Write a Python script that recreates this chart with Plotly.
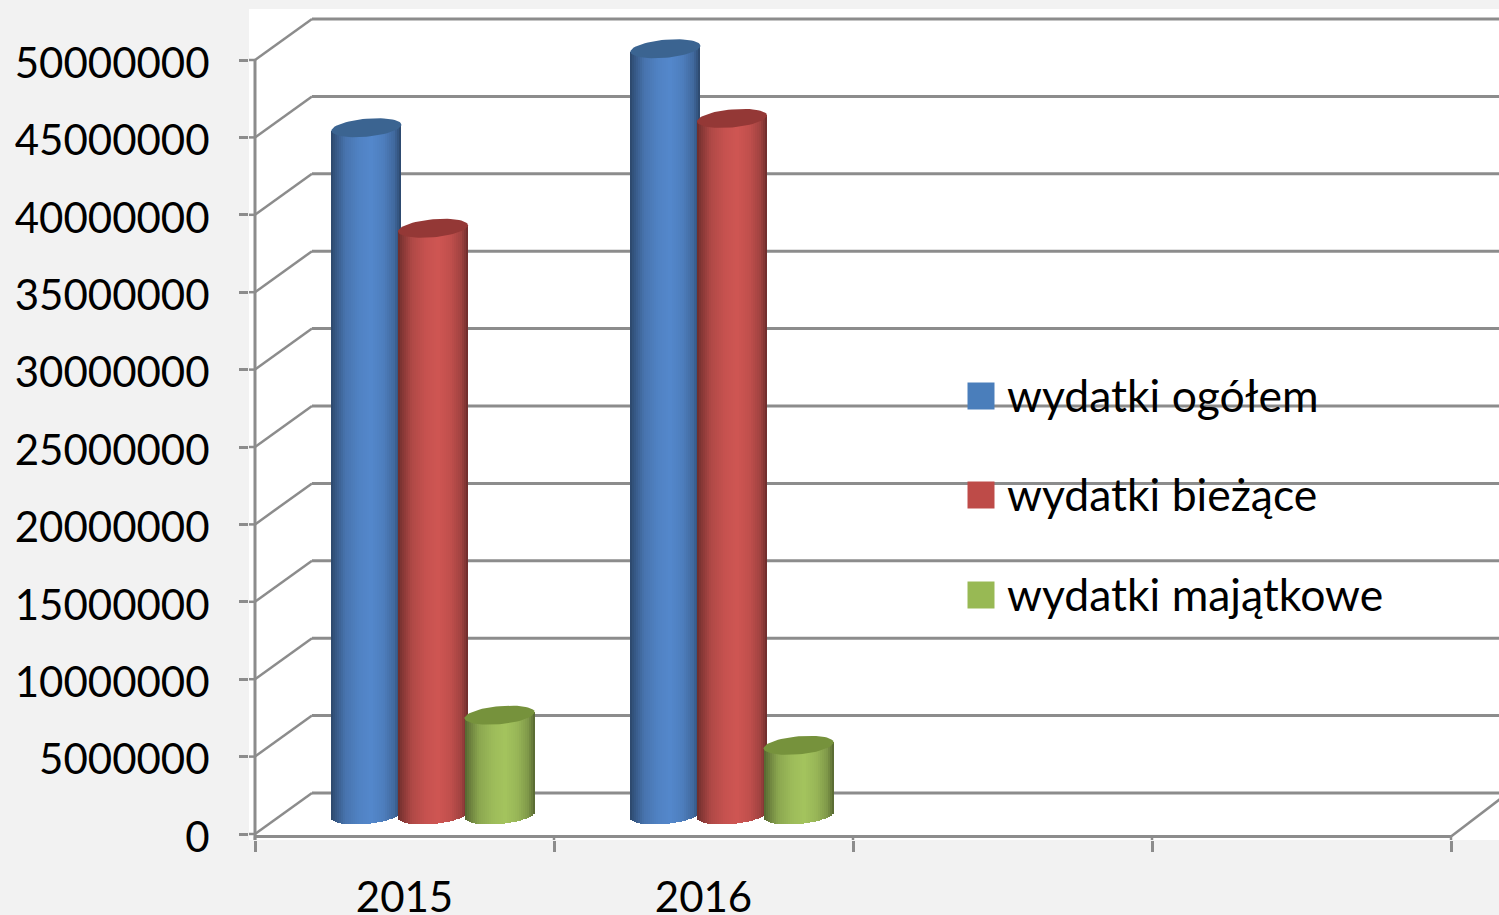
import numpy as np
import plotly.graph_objects as go

# ---- data ----
categories = ["2015", "2016"]
series_names = ["wydatki ogółem", "wydatki bieżące", "wydatki majątkowe"]
wydatki_ogolem = [44400000, 49500000]
wydatki_biezace = [37900000, 45000000]
wydatki_majatkowe = [6450000, 4500000]
y_ticks = [0, 5000000, 10000000, 15000000, 20000000, 25000000, 30000000,
           35000000, 40000000, 45000000, 50000000]

bright_colors = [(84, 136, 204), (207, 86, 83), (164, 196, 94)]
top_colors = ["#3B6491", "#943836", "#76923C"]
swatch_colors = ["#4A7EBB", "#BE4B48", "#98B954"]
grid_color = "#8C8C8C"

# ---- geometry (pixels of the figure, turned into axis units) ----
W, H = 1499, 915
LEFT, TOP, BOTTOM = 249, 9, 840
X0_PX, UNIT_PX = 255, 299.0
Y0_PX, V_PER_PX = 834, 50000000 / 774.0
DEPTH_X = 57 / UNIT_PX
DEPTH_Y = 41 * V_PER_PX
FRONT = -2.5 * V_PER_PX    # front edge of the floor sits a little below the zero tick
x_range = [(LEFT - X0_PX) / UNIT_PX, (W - X0_PX) / UNIT_PX]
y_range = [(Y0_PX - BOTTOM) * V_PER_PX, (Y0_PX - TOP) * V_PER_PX]

BAR_W = 70 / UNIT_PX
SPACING = 66.6 / UNIT_PX
SHIFT = 28.5 / UNIT_PX
FLOOR = 19 * V_PER_PX      # cylinder axis foot above zero
SEMI_B = 9 * V_PER_PX
TILT = 3 * V_PER_PX
STRIPS = 35

shade_t = [-1.0, -0.9, -0.6, -0.2, 0.15, 0.5, 0.8, 0.95, 1.0]
shade_f = [0.52, 0.62, 0.85, 0.96, 1.0, 0.93, 0.78, 0.60, 0.50]


def shade(rgb, t):
    f = np.interp(t, shade_t, shade_f)
    return "rgb(%d,%d,%d)" % tuple(int(c * f) for c in rgb)


fig = go.Figure()
all_values = [wydatki_ogolem, wydatki_biezace, wydatki_majatkowe]

# cylinders: body from thin bars, curved foot through the bar base
for s, values in enumerate(all_values):
    xs, bases, heights, colors = [], [], [], []
    for c, v in enumerate(values):
        centre = c + 0.5 + SHIFT + (s - 1) * SPACING
        t = (np.arange(STRIPS) + 0.5) / STRIPS * 2 - 1
        xs += list(centre + t * BAR_W / 2)
        foot = FLOOR + TILT * t - SEMI_B * np.sqrt(1 - t ** 2)
        head = FLOOR + v + TILT * t
        bases += list(foot)
        heights += list(head - foot)
        colors += [shade(bright_colors[s], k) for k in t]
    fig.add_trace(go.Bar(x=xs, y=heights, base=bases, width=BAR_W / STRIPS * 1.08,
                         marker=dict(color=colors, line=dict(width=0)),
                         name=series_names[s], showlegend=False, hoverinfo="skip"))

# cylinder tops
angle = np.linspace(0, 2 * np.pi, 61)
for s, values in enumerate(all_values):
    for c, v in enumerate(values):
        centre = c + 0.5 + SHIFT + (s - 1) * SPACING
        ex = centre + np.cos(angle) * BAR_W / 2
        ey = FLOOR + v + TILT * np.cos(angle) + SEMI_B * np.sin(angle)
        fig.add_trace(go.Scatter(x=ex, y=ey, mode="lines", fill="toself",
                                 fillcolor=top_colors[s], line=dict(width=0),
                                 showlegend=False, hoverinfo="skip"))

# walls and gridlines, below the cylinders
shapes = []
line = dict(color=grid_color, width=3)
thin = dict(color=grid_color, width=2.5)
right_end = x_range[1] + DEPTH_X
for v in y_ticks:
    shapes.append(dict(type="line", xref="x", yref="y", layer="below", x0=0, y0=v,
                       x1=DEPTH_X, y1=v + DEPTH_Y, line=thin))
    shapes.append(dict(type="line", xref="x", yref="y", layer="below", x0=DEPTH_X, y0=v + DEPTH_Y,
                       x1=right_end, y1=v + DEPTH_Y, line=line))
    shapes.append(dict(type="line", xref="x", yref="y", layer="below", x0=x_range[0], y0=v,
                       x1=0, y1=v, line=thin))
shapes.append(dict(type="line", xref="x", yref="y", layer="below", x0=0, y0=FRONT, x1=4, y1=FRONT, line=line))
shapes.append(dict(type="line", xref="x", yref="y", layer="below", x0=4, y0=FRONT,
                   x1=4 + DEPTH_X, y1=DEPTH_Y, line=thin))
shapes.append(dict(type="line", xref="x", yref="y", layer="below", x0=0, y0=y_range[0],
                   x1=0, y1=y_ticks[-1], line=line))
for k in range(5):
    shapes.append(dict(type="line", xref="x", yref="y", layer="below", x0=k, y0=y_range[0],
                       x1=k, y1=FRONT, line=thin))

# legend block
legend_y_px = [396, 495, 595]
annotations = []
for name, col, py in zip(series_names, swatch_colors, legend_y_px):
    fig.add_trace(go.Scatter(x=[(981 - X0_PX) / UNIT_PX], y=[(Y0_PX - py) * V_PER_PX], mode="markers",
                             marker=dict(symbol="square", size=27, color=col, line=dict(width=0)),
                             name=name, showlegend=False, hoverinfo="skip"))
    annotations.append(dict(x=(1005 - X0_PX) / UNIT_PX, y=(Y0_PX - py + 2) * V_PER_PX, xref="x", yref="y",
                            text=name, showarrow=False, xanchor="left", yanchor="middle",
                            font=dict(family="Lato", size=44.5, color="#000000")))

fig.update_layout(
    width=W, height=H, autosize=False,
    paper_bgcolor="#F2F2F2", plot_bgcolor="#FFFFFF",
    margin=dict(l=LEFT, r=0, t=TOP, b=H - BOTTOM, pad=0, autoexpand=False),
    barmode="overlay", bargap=0, showlegend=False,
    shapes=shapes, annotations=annotations,
    font=dict(family="Lato", size=42, color="#000000"),
    xaxis=dict(range=x_range, autorange=False, fixedrange=True, showgrid=False, zeroline=False,
               showline=False, automargin=False, tickmode="array", tickvals=[0.5, 1.5], ticktext=categories,
               ticks="", ticklabelstandoff=29, tickfont=dict(family="Lato", size=42),
               minor=dict(tickmode="array", tickvals=[0, 1, 2, 3, 4], ticks="outside",
                          ticklen=11, tickwidth=2.5, tickcolor=grid_color, showgrid=False)),
    yaxis=dict(range=y_range, autorange=False, fixedrange=True, showgrid=False, zeroline=False,
               showline=False, automargin=False, tickmode="array", tickvals=y_ticks,
               ticktext=[str(v) for v in y_ticks], ticks="outside", ticklen=9, tickwidth=2.5,
               tickcolor=grid_color, ticklabelstandoff=21, ticklabelshift=3,
               tickfont=dict(family="Lato", size=42)),
)

fig.write_html("out.html", config={"displayModeBar": False},
               post_script="document.body.style.margin='0';document.documentElement.style.background='#F2F2F2';")
